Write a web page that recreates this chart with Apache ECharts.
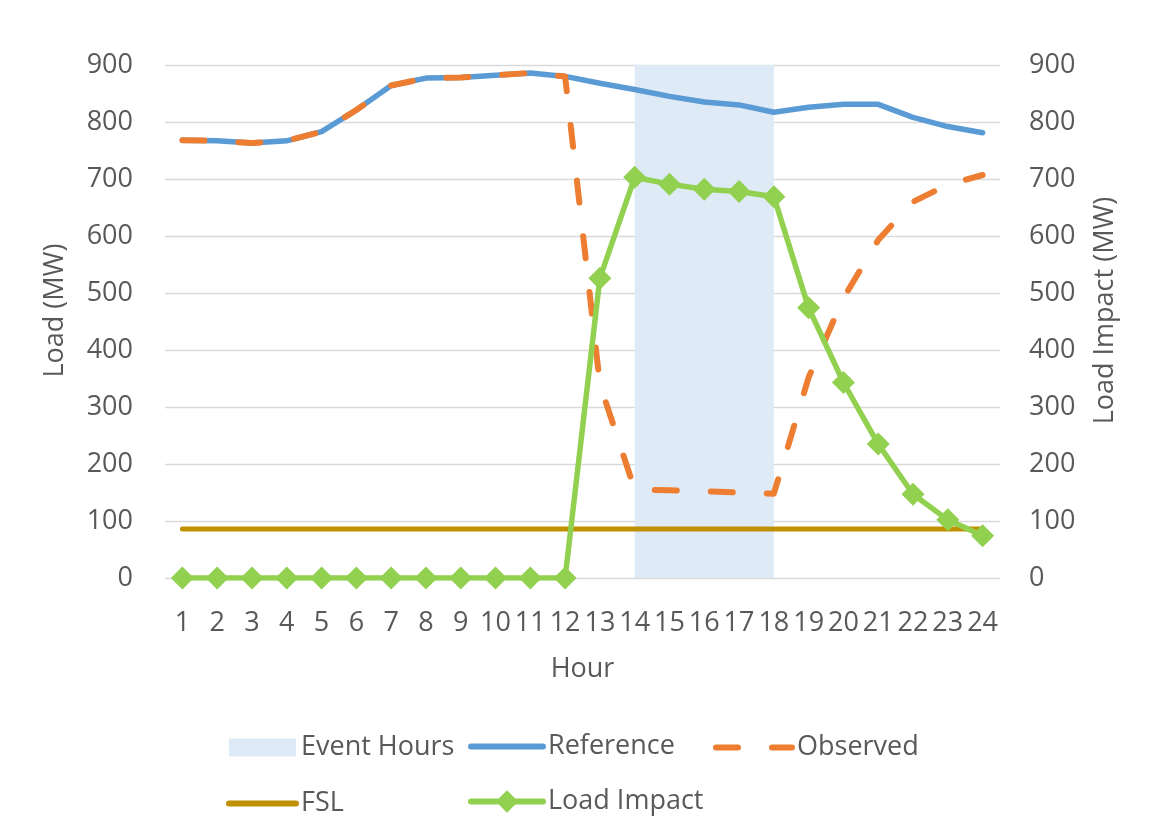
<!DOCTYPE html>
<html>
<head>
<meta charset="utf-8">
<title>Load Impact by Hour</title>
<script src="https://cdn.jsdelivr.net/npm/echarts@6/dist/echarts.min.js"></script>
<style>
  html, body { margin: 0; padding: 0; background: #ffffff; }
  #chart { width: 1153px; height: 838px; }
</style>
</head>
<body>
<div id="chart"></div>
<script>
// Hour of day (category axis)
const hours = ['1', '2', '3', '4', '5', '6', '7', '8', '9', '10', '11', '12',
               '13', '14', '15', '16', '17', '18', '19', '20', '21', '22', '23', '24'];

// Event window: filled up to the top of the load axis during hours 14-18
const eventHours = [null, null, null, null, null, null, null, null, null, null, null, null,
                    null, 900, 900, 900, 900, 900, null, null, null, null, null, null];

// Reference load (MW)
const reference = [768, 767, 763, 767, 783, 821, 864, 877, 878, 882, 886, 880,
                   868, 857, 845, 835, 830, 817, 826, 831, 831, 808, 792, 781];

// Observed load (MW)
const observed = [768, 767, 763, 767, 783, 821, 864, 877, 878, 882, 886, 880,
                  340, 155, 154, 152, 150, 148, 352, 491, 593, 660, 690, 707];

// Firm service level (MW)
const fsl = [86, 86, 86, 86, 86, 86, 86, 86, 86, 86, 86, 86,
             86, 86, 86, 86, 86, 86, 86, 86, 86, 86, 86, 86];

// Load impact (MW), plotted on the secondary axis
const loadImpact = [0, 0, 0, 0, 0, 0, 0, 0, 0, 0, 0, 0,
                    526, 703, 691, 682, 678, 669, 474, 343, 235, 147, 102, 74];

// Shared value-axis scale
const axisMin = 0;
const axisMax = 900;
const axisStep = 100;

const FONT = '"Open Sans", "Noto Sans", sans-serif';
const TEXT_COLOR = '#595959';
const GRID_COLOR = '#D9D9D9';

const COLORS = {
  event: '#DEEAF6',
  reference: '#5B9BD5',
  observed: '#ED7D31',
  fsl: '#BF9000',
  impact: '#92D050'
};
const OBSERVED_DASH = [22, 34];

const textStyle = { fontFamily: FONT, fontSize: 27, color: TEXT_COLOR };

// Legend entries for plain lines: hide the marker, keep a thick round-capped stroke
const lineOnly = (name, color, extra) => ({
  name: name,
  itemStyle: { opacity: 0 },
  lineStyle: Object.assign({ width: 6, color: color, cap: 'round' }, extra || {})
});

const chart = echarts.init(document.getElementById('chart'), null, { renderer: 'canvas' });

chart.setOption({
  backgroundColor: '#ffffff',
  animation: false,
  textStyle: textStyle,
  grid: { left: 165, right: 153, top: 65, bottom: 260, containLabel: false },
  xAxis: {
    type: 'category',
    data: hours,
    boundaryGap: true,
    name: 'Hour',
    nameLocation: 'middle',
    nameGap: 78,
    nameTextStyle: textStyle,
    axisLine: { show: false },
    axisTick: { show: false },
    axisLabel: Object.assign({ interval: 0, margin: 32 }, textStyle),
    splitLine: { show: false }
  },
  yAxis: [
    {
      type: 'value',
      min: axisMin, max: axisMax, interval: axisStep,
      name: 'Load (MW)',
      nameLocation: 'middle',
      nameRotate: 90,
      nameGap: 96,
      nameTextStyle: Object.assign({ padding: [0, 0, 0, 22] }, textStyle),
      axisLine: { show: false },
      axisTick: { show: false },
      axisLabel: Object.assign({ margin: 32 }, textStyle),
      splitLine: { show: true, lineStyle: { color: GRID_COLOR, width: 1.3 } }
    },
    {
      type: 'value',
      min: axisMin, max: axisMax, interval: axisStep,
      name: 'Load Impact (MW)',
      nameLocation: 'middle',
      nameRotate: 90,
      nameGap: 92,
      nameTextStyle: Object.assign({ padding: [0, 0, 0, 22] }, textStyle),
      axisLine: { show: false },
      axisTick: { show: false },
      axisLabel: Object.assign({ margin: 29 }, textStyle),
      splitLine: { show: false }
    }
  ],
  legend: [
    {
      orient: 'vertical', left: 226, top: 734, padding: 0,
      itemWidth: 67, itemHeight: 18, itemGap: 29,
      textStyle: textStyle,
      data: [
        { name: 'Event Hours', icon: 'rect' },
        lineOnly('FSL', COLORS.fsl)
      ]
    },
    {
      orient: 'vertical', left: 468, top: 733, padding: 0,
      itemWidth: 72, itemHeight: 28, itemGap: 28,
      textStyle: textStyle,
      data: [
        lineOnly('Reference', COLORS.reference),
        { name: 'Load Impact', lineStyle: { width: 6, color: COLORS.impact, cap: 'round' } }
      ]
    },
    {
      orient: 'vertical', left: 713, top: 734, padding: 0,
      itemWidth: 76, itemHeight: 18, itemGap: 29,
      textStyle: textStyle,
      data: [
        lineOnly('Observed', COLORS.observed, { type: OBSERVED_DASH })
      ]
    }
  ],
  series: [
    {
      name: 'Event Hours',
      type: 'line',
      data: eventHours,
      yAxisIndex: 0,
      symbol: 'none',
      connectNulls: false,
      color: COLORS.event,
      lineStyle: { width: 0, color: COLORS.event },
      areaStyle: { color: COLORS.event, opacity: 1 },
      z: 1
    },
    {
      name: 'Reference',
      type: 'line',
      data: reference,
      yAxisIndex: 0,
      symbol: 'none',
      color: COLORS.reference,
      lineStyle: { width: 5.5, color: COLORS.reference, cap: 'round', join: 'round' },
      z: 2
    },
    {
      name: 'Observed',
      type: 'line',
      data: observed,
      yAxisIndex: 0,
      symbol: 'none',
      color: COLORS.observed,
      lineStyle: { width: 6, color: COLORS.observed, type: OBSERVED_DASH, cap: 'round', join: 'round' },
      z: 3
    },
    {
      name: 'FSL',
      type: 'line',
      data: fsl,
      yAxisIndex: 0,
      symbol: 'none',
      color: COLORS.fsl,
      lineStyle: { width: 5, color: COLORS.fsl, cap: 'round' },
      z: 4
    },
    {
      name: 'Load Impact',
      type: 'line',
      data: loadImpact,
      yAxisIndex: 1,
      symbol: 'diamond',
      symbolSize: 23,
      showAllSymbol: true,
      color: COLORS.impact,
      itemStyle: { color: COLORS.impact },
      lineStyle: { width: 5.5, color: COLORS.impact, join: 'round' },
      z: 5
    }
  ]
});
</script>
</body>
</html>
